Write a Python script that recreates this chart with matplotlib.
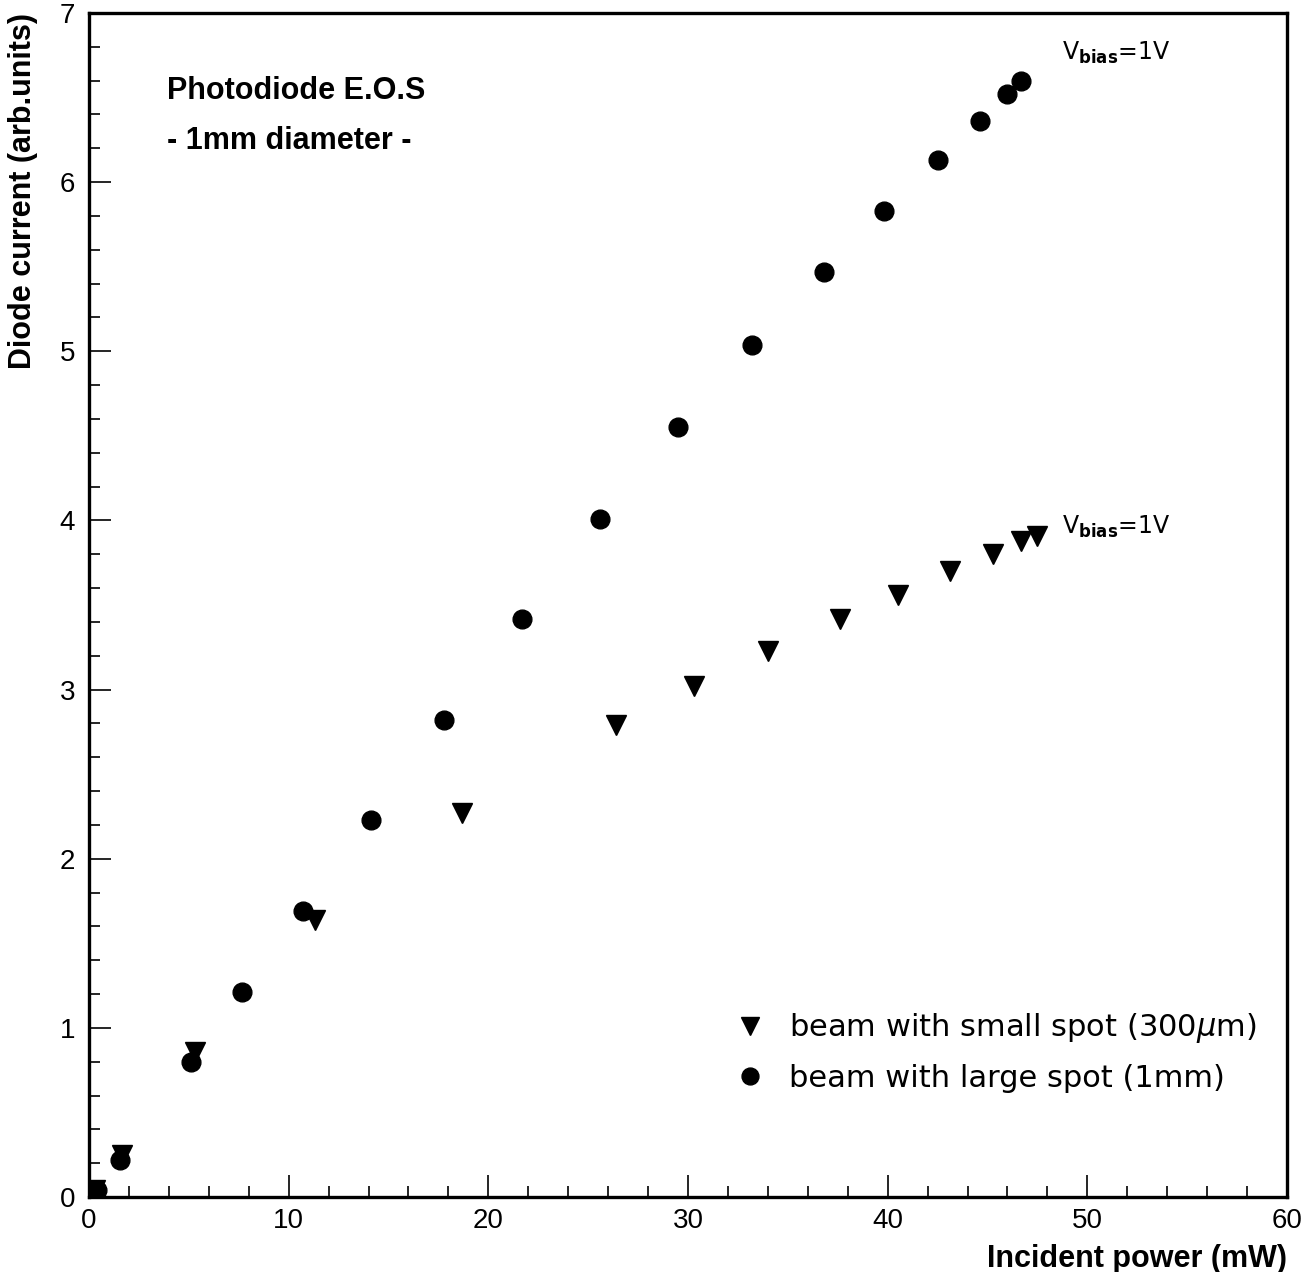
import matplotlib
matplotlib.use("Agg")
import matplotlib.pyplot as plt
from matplotlib.ticker import MultipleLocator

# Data
large_x = [0.4, 1.55, 5.1, 7.66, 10.7, 14.1, 17.8, 21.7, 25.6, 29.5, 33.2, 36.8, 39.8, 42.5, 44.6, 46.0, 46.7]
large_y = [0.04, 0.22, 0.80, 1.21, 1.69, 2.23, 2.82, 3.42, 4.01, 4.55, 5.04, 5.47, 5.83, 6.13, 6.36, 6.52, 6.60]
small_x = [0.3, 1.65, 5.3, 11.3, 18.7, 26.4, 30.3, 34.0, 37.6, 40.5, 43.1, 45.3, 46.7, 47.5]
small_y = [0.04, 0.25, 0.86, 1.64, 2.27, 2.79, 3.02, 3.23, 3.42, 3.56, 3.70, 3.80, 3.88, 3.91]

label_small = r"beam with small spot (300$\mu$m)"
label_large = "beam with large spot (1mm)"
xlabel = "Incident power (mW)"
ylabel = "Diode current (arb.units)"
title1 = "Photodiode E.O.S"
title2 = "- 1mm diameter -"
vbias = r"V$_{\mathbf{bias}}$=1V"

W, H = 1311, 1272
fig = plt.figure(figsize=(W / 100, H / 100), dpi=100)
ax = fig.add_axes([89 / W, 1 - 1197 / H, (1287 - 89) / W, (1197 - 13) / H])

ax.plot(small_x, small_y, linestyle="none", marker="v", color="black",
        markersize=14, label=label_small)
ax.plot(large_x, large_y, linestyle="none", marker="o", color="black",
        markersize=13.5, label=label_large)

ax.set_xlim(0, 60)
ax.set_ylim(0, 7)
ax.xaxis.set_major_locator(MultipleLocator(10))
ax.xaxis.set_minor_locator(MultipleLocator(2))
ax.yaxis.set_major_locator(MultipleLocator(1))
ax.yaxis.set_minor_locator(MultipleLocator(0.2))
ax.tick_params(which="both", direction="in", top=False, right=False, width=1.2,
               labelsize=20, colors="black")
ax.tick_params(which="major", length=16)
ax.tick_params(which="minor", length=8)
ax.tick_params(axis="x", pad=8)
ax.tick_params(axis="y", pad=10)
for lab in ax.get_xticklabels() + ax.get_yticklabels():
    lab.set_family("Liberation Sans")
for s in ax.spines.values():
    s.set_linewidth(2.4)

ax.set_xlabel(xlabel, fontsize=22, fontweight="bold", family="Liberation Sans")
ax.xaxis.set_label_coords(1.0, -0.04)
ax.xaxis.label.set_horizontalalignment("right")
ax.set_ylabel(ylabel, fontsize=22, fontweight="bold", family="Liberation Sans")
ax.yaxis.set_label_coords(-0.055, 1.0)
ax.yaxis.label.set_verticalalignment("center")
ax.yaxis.label.set_horizontalalignment("right")

ax.text(0.065, 0.934, title1, transform=ax.transAxes, fontsize=22,
        fontweight="bold", family="Liberation Sans", va="center", ha="left")
ax.text(0.065, 0.892, title2, transform=ax.transAxes, fontsize=22,
        fontweight="bold", family="Liberation Sans", va="center", ha="left")

ax.text(0.812, 0.966, vbias, transform=ax.transAxes, fontsize=17,
        family="DejaVu Sans", va="center", ha="left")
ax.text(0.812, 0.566, vbias, transform=ax.transAxes, fontsize=17,
        family="DejaVu Sans", va="center", ha="left")

leg = ax.legend(loc="lower right", bbox_to_anchor=(0.975, 0.088), frameon=False,
                prop={"family": "DejaVu Sans", "size": 22}, handletextpad=0.8,
                labelspacing=0.6, handlelength=1.0, markerscale=0.9,
                borderpad=0, borderaxespad=0)

fig.savefig("out.png", dpi=100, facecolor="white")
